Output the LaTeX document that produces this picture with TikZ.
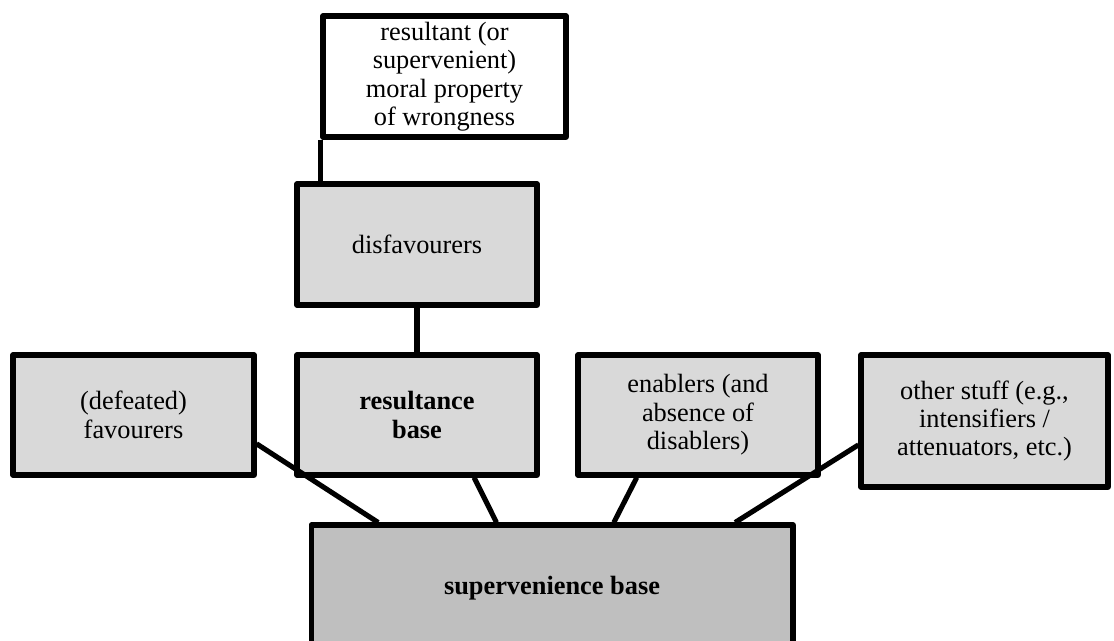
\documentclass[tikz,border=0pt]{standalone}
\usepackage{fontspec}
\setmainfont{Liberation Serif}
\usetikzlibrary{calc}
\definecolor{boxgray}{HTML}{D9D9D9}
\definecolor{basegray}{HTML}{BFBFBF}
\begin{document}
\begin{tikzpicture}[x=0.02cm,y=-0.02cm,
  box/.style={draw=black,line width=2.9pt,line join=round,fill=boxgray,
    inner sep=0pt,align=center,font=\fontsize{15}{16.2}\selectfont},
  link/.style={draw=black,line width=2.9pt}]
\useasboundingbox (0,0) rectangle (1114,641);
\node[box,fill=white,minimum width=4.86cm,minimum height=2.42cm] (top) at (444.5,76.5)
  {resultant (or\\supervenient)\\moral property\\of wrongness};
\node[box,minimum width=4.8cm,minimum height=2.42cm] (disf) at (417,244.5) {disfavourers};
\node[box,minimum width=4.8cm,minimum height=2.4cm] (res) at (417,415) {\bfseries resultance\\\bfseries base};
\node[box,minimum width=4.82cm,minimum height=2.4cm] (fav) at (133.5,415) {(defeated)\\favourers};
\node[box,minimum width=4.8cm,minimum height=2.4cm] (ena) at (698,415) {enablers (and\\absence of\\disablers)};
\node[box,minimum width=4.94cm,minimum height=2.64cm] (oth) at (984.5,421) {other stuff (e.g.,\\intensifiers /\\attenuators, etc.)};
\node[box,fill=basegray,minimum width=9.64cm,minimum height=2.52cm] (sup) at (552,588) {\bfseries supervenience base};
\draw[link] (top.south west) -- (top.south west |- disf.north);
\draw[link] (disf.south) -- (res.north);
\draw[link] ($(fav.north east)!0.73!(fav.south east)$) -- ($(sup.north west)!0.143!(sup.north east)$);
\draw[link] ($(res.south west)!0.733!(res.south east)$) -- ($(sup.north west)!0.386!(sup.north east)$);
\draw[link] ($(ena.south west)!0.25!(ena.south east)$) -- ($(sup.north west)!0.627!(sup.north east)$);
\draw[link] ($(oth.north west)!0.674!(oth.south west)$) -- ($(sup.north west)!0.876!(sup.north east)$);
\end{tikzpicture}
\end{document}
